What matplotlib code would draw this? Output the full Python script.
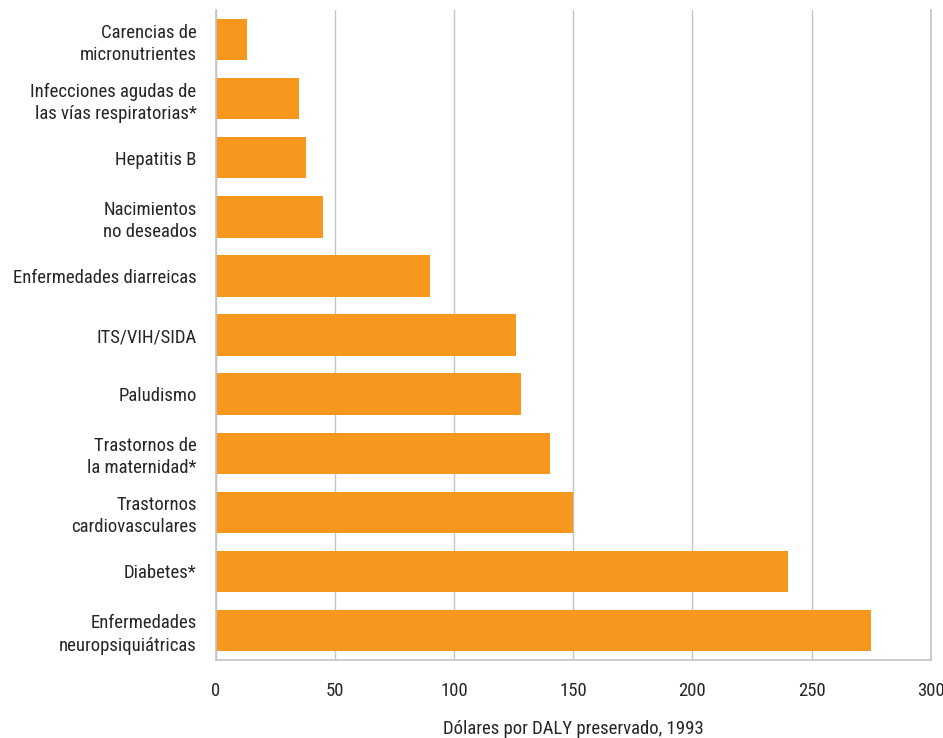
import matplotlib
matplotlib.use("Agg")
import matplotlib.pyplot as plt

plt.rcParams['font.family'] = ['Roboto Condensed', 'DejaVu Sans']

causas = [
    "Carencias de\nmicronutrientes",
    "Infecciones agudas de\nlas vías respiratorias*",
    "Hepatitis B",
    "Nacimientos\nno deseados",
    "Enfermedades diarreicas",
    "ITS/VIH/SIDA",
    "Paludismo",
    "Trastornos de\nla maternidad*",
    "Trastornos\ncardiovasculares",
    "Diabetes*",
    "Enfermedades\nneuropsiquiátricas",
]
dolares = [13, 35, 38, 45, 90, 126, 128, 140, 150, 240, 275]
xticks = [0, 50, 100, 150, 200, 250, 300]

naranja = "#F7971E"
gris = "#C4C4C4"
texto = "#262626"

fig = plt.figure(figsize=(9.43, 7.38), dpi=100)
ax = fig.add_axes([0.229, 0.1057, 0.758, 0.8807])

pos = list(range(len(causas)))
ax.barh(pos, dolares, height=0.7, color=naranja, zorder=2)
ax.set_ylim(len(causas) - 0.5, -0.5)
ax.set_xlim(0, 300)
ax.set_xticks(xticks)
ax.set_yticks(pos)
ax.set_yticklabels(causas, linespacing=1.3)

ax.grid(axis='x', color=gris, linewidth=1, zorder=0)
ax.spines['top'].set_visible(False)
for s in ['left', 'bottom', 'right']:
    ax.spines[s].set_color(gris)
    ax.spines[s].set_linewidth(1.2)

ax.tick_params(axis='both', length=0, labelsize=13.5, labelcolor=texto)
ax.tick_params(axis='x', pad=16)
ax.tick_params(axis='y', pad=14)
ax.set_xlabel("Dólares por DALY preservado, 1993", fontsize=13.5, color=texto, labelpad=14)

fig.savefig("out.png", dpi=100)
